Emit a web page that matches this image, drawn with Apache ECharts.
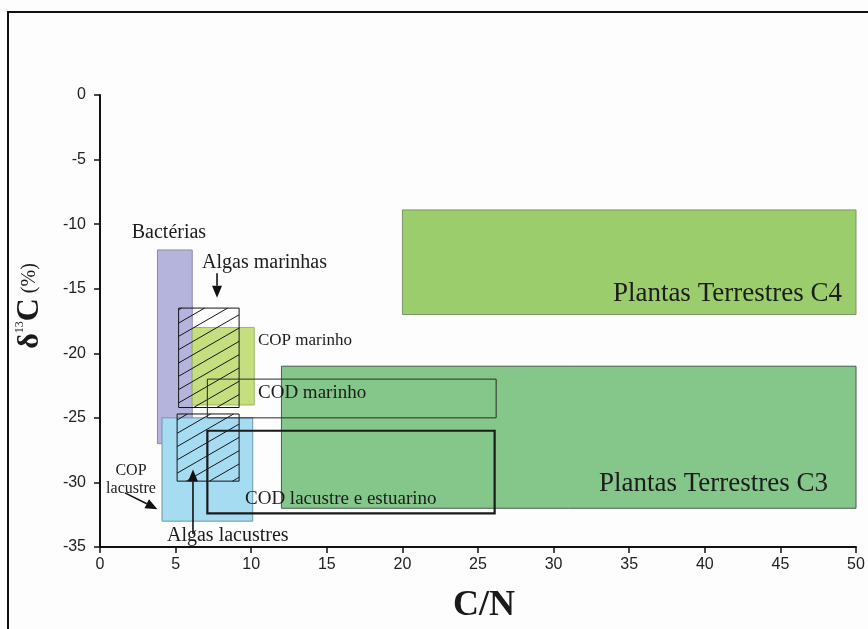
<!DOCTYPE html>
<html><head><meta charset="utf-8">
<script src="https://cdn.jsdelivr.net/npm/echarts@6/dist/echarts.min.js"></script>
<style>html,body{margin:0;padding:0;background:#fdfdfd}#c{width:868px;height:629px}</style>
</head><body><div id="c"></div>
<script>
// ---- data (C/N ranges and δ13C ranges of each source region) ----
const regionNames = ['Plantas Terrestres C4','Plantas Terrestres C3','Bactérias','COP marinho','COP lacustre','Algas marinhas','Algas lacustres','COD marinho','COD lacustre e estuarino'];
const cnMin  = [20, 12, 3.8, 6.1, 4.1, 5.2, 5.1, 7.1, 7.1];
const cnMax  = [50, 50, 6.1, 10.2, 10.1, 9.2, 9.2, 26.2, 26.1];
const d13Min = [-17, -32, -27, -24, -33, -24.2, -29.9, -25, -32.4];
const d13Max = [-8.9, -21, -12, -18, -25, -16.5, -24.7, -22, -26];
const xTicks = [0,5,10,15,20,25,30,35,40,45,50];
const yTicks = [0,-5,-10,-15,-20,-25,-30,-35];

// ---- styles ----
const regionStyle = {
  'Plantas Terrestres C4': {fill:'#9ccd6c', stroke:'#7c9468', lw:1},
  'Plantas Terrestres C3': {fill:'#85c78a', stroke:'#4d5a52', lw:1},
  'Bactérias': {fill:'#b4b4dc', stroke:'#8a8aae', lw:1},
  'COP marinho': {fill:'#c6df7e', stroke:'#9fb560', lw:1},
  'COP lacustre': {fill:'#a6dcf2', stroke:'#6b98ad', lw:1},
  'Algas marinhas': {fill:'rgba(0,0,0,0)', stroke:'#151515', lw:1, hatch:true, phase:1.7},
  'Algas lacustres': {fill:'rgba(0,0,0,0)', stroke:'#151515', lw:1, hatch:true, phase:6},
  'COD marinho': {fill:'rgba(0,0,0,0)', stroke:'#2a2a2a', lw:1},
  'COD lacustre e estuarino': {fill:'rgba(0,0,0,0)', stroke:'#1a1a1a', lw:2.2}
};
const SERIF = "'Liberation Serif','Times New Roman',serif";
const SANS = "'Liberation Sans',Arial,sans-serif";

// ---- annotations (anchors in data coordinates) ----
const labelTexts = ['Bactérias','Algas marinhas','COP marinho','COD marinho','Plantas Terrestres C4','Plantas Terrestres C3','COD lacustre e estuarino','COP\nlacustre','Algas lacustres'];
const labelLayout = [
  {at:[2.1,-10.63], align:'left', size:20},
  {at:[6.75,-12.96], align:'left', size:20},
  {at:[10.45,-19.01], align:'left', size:17},
  {at:[10.45,-23.05], align:'left', size:19},
  {at:[49.07,-15.37], align:'right', size:27},
  {at:[48.15,-30.11], align:'right', size:27},
  {at:[9.59,-31.27], align:'left', size:19},
  {at:[2.05,-29.8], align:'center', size:16, lh:18},
  {at:[4.43,-34.15], align:'left', size:20}
];
const arrowLayout = [
  {from:[7.74,-13.81], to:[7.74,-15.7]},
  {from:[1.65,-30.81], to:[3.8,-32.07]},
  {from:[6.15,-33.99], to:[6.15,-29.0]}
];

function renderRegion(params, api){
  const i = params.dataIndex;
  const p1 = api.coord([api.value(0), api.value(3)]);
  const p2 = api.coord([api.value(1), api.value(2)]);
  const x1=p1[0], y1=p1[1], x2=p2[0], y2=p2[1];
  const st = regionStyle[regionNames[i]];
  const children = [{type:'rect', z2:i*10, shape:{x:x1,y:y1,width:x2-x1,height:y2-y1},
    style:{fill:st.fill, stroke:st.stroke, lineWidth:st.lw}}];
  if(st.hatch){
    const k = Math.tan(Math.PI/6), s = 13.3;
    const cmin = y1 + k*x1, cmax = y2 + k*x2;
    for(let c = cmin + st.phase; c < cmax; c += s){
      const xa = Math.max(x1, (c - y2)/k), xb = Math.min(x2, (c - y1)/k);
      if(xb > xa) children.push({type:'line', z2:i*10+1,
        shape:{x1:xa, y1:c-k*xa, x2:xb, y2:c-k*xb}, style:{stroke:'#151515', lineWidth:1}});
    }
  }
  return {type:'group', children};
}

function renderLabel(params, api){
  const i = params.dataIndex;
  const L = labelLayout[i];
  const p = api.coord(L.at);
  return {type:'text', z2:200, x:p[0], y:p[1], style:{text:labelTexts[i], fontSize:L.size, fontFamily:SERIF,
    fill:'#1c1c1c', align:L.align, verticalAlign:'middle', lineHeight:L.lh||L.size}};
}

function renderArrow(params, api){
  const A = arrowLayout[params.dataIndex];
  const a = api.coord(A.from), b = api.coord(A.to);
  const dx=b[0]-a[0], dy=b[1]-a[1], len=Math.hypot(dx,dy), ux=dx/len, uy=dy/len;
  const hl=12, hw=5;
  const bx=b[0]-ux*hl, by=b[1]-uy*hl;
  return {type:'group', children:[
    {type:'line', z2:210, shape:{x1:a[0],y1:a[1],x2:bx,y2:by}, style:{stroke:'#111', lineWidth:1.6}},
    {type:'polygon', z2:211, shape:{points:[[b[0],b[1]],[bx-uy*hw,by+ux*hw],[bx+uy*hw,by-ux*hw]]}, style:{fill:'#111'}}
  ]};
}

const chart = echarts.init(document.getElementById('c'), null, {renderer:'canvas'});
chart.setOption({
  animation:false,
  backgroundColor:'#fdfdfd',
  grid:{left:100, right:12, top:95, bottom:82},
  xAxis:{type:'value', min:xTicks[0], max:xTicks[xTicks.length-1], interval:5,
    name:'C/N', nameLocation:'middle', nameGap:41,
    nameTextStyle:{fontSize:36, fontWeight:'bold', fontFamily:SERIF, color:'#1a1a1a', padding:[0,0,0,12]},
    axisLine:{onZero:false, lineStyle:{color:'#111', width:2}},
    axisTick:{length:6, lineStyle:{color:'#111', width:1.5}},
    axisLabel:{fontSize:16, color:'#222', fontFamily:SANS, margin:10},
    splitLine:{show:false}},
  yAxis:{type:'value', min:yTicks[yTicks.length-1], max:yTicks[0], interval:5,
    name:'{d|δ}{s|13}{c|C}{p| (%)}', nameLocation:'middle', nameRotate:90, nameGap:54,
    nameTextStyle:{padding:[0,0,0,30], rich:{
      d:{fontSize:30, fontWeight:'bold', fontFamily:SERIF, color:'#1a1a1a'},
      s:{fontSize:12, fontFamily:SERIF, color:'#1a1a1a', verticalAlign:'top', padding:[0,0,14,0]},
      c:{fontSize:32, fontWeight:'bold', fontFamily:SERIF, color:'#1a1a1a'},
      p:{fontSize:20, fontFamily:SERIF, color:'#1a1a1a'}}},
    axisLine:{onZero:false, lineStyle:{color:'#111', width:2}},
    axisTick:{length:6, lineStyle:{color:'#111', width:1.5}},
    axisLabel:{fontSize:16, color:'#222', fontFamily:SANS, margin:14},
    splitLine:{show:false}},
  graphic:[{type:'rect', silent:true, z:-10, shape:{x:8,y:12,width:900,height:700},
    style:{fill:'none', stroke:'#111', lineWidth:2}}],
  series:[
    {type:'custom', name:'regions', renderItem:renderRegion, clip:false,
      data: regionNames.map((n,i)=>[cnMin[i], cnMax[i], d13Min[i], d13Max[i]])},
    {type:'custom', name:'arrows', renderItem:renderArrow, clip:false, z:3,
      data: arrowLayout.map((a,i)=>[i])},
    {type:'custom', name:'labels', renderItem:renderLabel, clip:false, z:4,
      data: labelTexts.map((t,i)=>[i])}
  ]
});
</script></body></html>
